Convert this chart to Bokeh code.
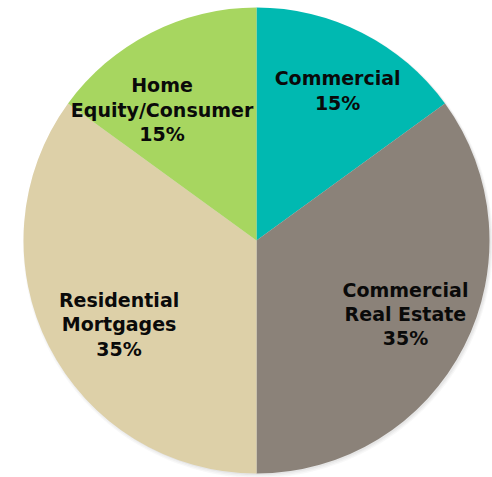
import numpy as np
from bokeh.plotting import figure
from bokeh.models import Range1d, ColumnDataSource
from bokeh.core.properties import value
from bokeh.embed import file_html
from bokeh.resources import INLINE

# data
categories = ["Commercial", "Commercial\nReal Estate", "Residential\nMortgages", "Home\nEquity/Consumer"]
shares = [15, 35, 35, 15]
colors = ["#00B9B1", "#8B8279", "#DDD0A8", "#A7D660"]

# label layout (angle offset in degrees, radius fraction)
label_angle_offset = [-1.4, 0.7, 4.4, 8.8]
label_radius = [0.732, 0.713, 0.691, 0.693]

W, H = 492, 477
cx, cy, R = 256, 237, 233

frac = np.array(shares, dtype=float) / sum(shares)
ends = np.pi / 2 - 2 * np.pi * np.cumsum(frac)
starts = np.concatenate([[np.pi / 2], ends[:-1]])
mids = (starts + ends) / 2 + np.radians(label_angle_offset)

p = figure(width=W, height=H, output_backend="svg", toolbar_location=None,
           x_range=Range1d(0, W), y_range=Range1d(0, H), min_border=0)
p.axis.visible = False
p.grid.visible = False
p.outline_line_color = None
p.background_fill_color = "white"

# soft shadow
for i, a in enumerate([0.05, 0.06, 0.08]):
    p.circle(x=[cx + 1.5], y=[cy - 2.5 + i * 0.5], radius=R + 2 - i, fill_color="#777777",
             fill_alpha=a, line_color=None)

src = ColumnDataSource(dict(start=starts, end=ends, color=colors))
p.wedge(x=cx, y=cy, radius=R, start_angle="end", end_angle="start",
        fill_color="color", line_color=None, source=src)

lx = cx + np.array(label_radius) * R * np.cos(mids)
ly = cy + np.array(label_radius) * R * np.sin(mids)
texts = [c + "\n" + f"{s}%" for c, s in zip(categories, shares)]
p.text(x=lx, y=ly, text=texts, text_align="center", text_baseline="middle",
       text_font=value("DejaVu Sans"), text_font_style="bold", text_font_size="19px",
       text_color="#0a0a0a", text_line_height=1.1)

open("out.html", "w").write(file_html(p, INLINE))
